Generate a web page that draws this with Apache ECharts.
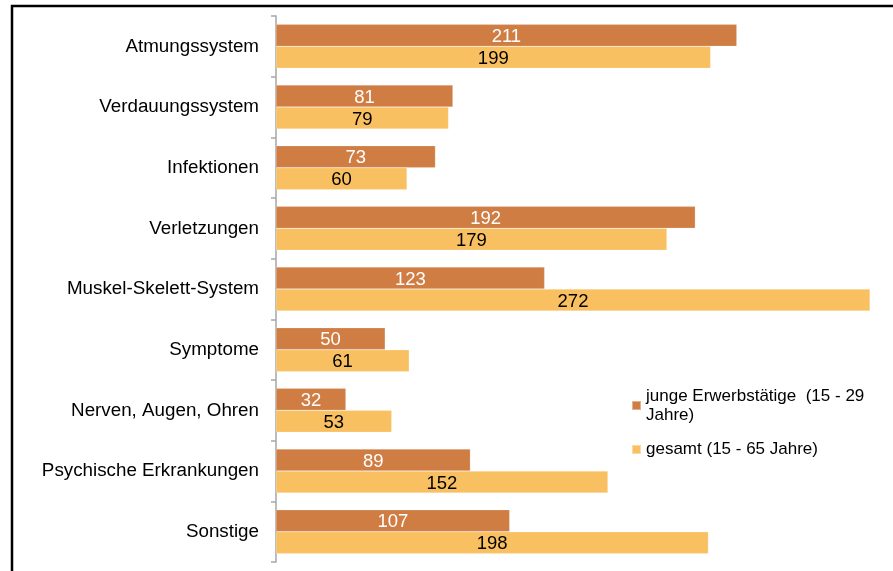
<!DOCTYPE html>
<html>
<head>
<meta charset="utf-8">
<script src="https://cdn.jsdelivr.net/npm/echarts@6/dist/echarts.min.js"></script>
<style>html,body{margin:0;padding:0;background:#fff}#c{width:893px;height:571px}</style>
</head>
<body>
<div id="c"></div>
<script>
const categories = ['Atmungssystem','Verdauungssystem','Infektionen','Verletzungen','Muskel-Skelett-System','Symptome','Nerven, Augen, Ohren','Psychische Erkrankungen','Sonstige'];
const seriesNames = ['junge Erwerbstätige  (15 - 29 Jahre)', 'gesamt (15 - 65 Jahre)'];
const jungeValues = [211, 81, 73, 192, 123, 50, 32, 89, 107];
const gesamtValues = [199, 79, 60, 179, 272, 61, 53, 152, 198];

const chart = echarts.init(document.getElementById('c'));
const font = 'Liberation Sans, Arial, sans-serif';
chart.setOption({
  animation: false,
  textStyle: { fontFamily: font },
  graphic: [{
    type: 'rect', silent: true,
    shape: { x: 12, y: 6, width: 1000, height: 1000 },
    style: { fill: 'none', stroke: '#000', lineWidth: 2.5 }
  }],
  legend: [{
    data: [seriesNames[0]],
    orient: 'vertical', left: 631, top: 377, padding: 0,
    itemWidth: 9, itemHeight: 9, icon: 'rect',
    formatter: () => 'junge Erwerbstätige  (15 - 29\nJahre)',
    textStyle: { fontSize: 17, color: '#000', lineHeight: 19, padding: [19, 0, 0, 0], fontFamily: font }
  }, {
    data: [seriesNames[1]],
    orient: 'vertical', left: 631, top: 440, padding: 0,
    itemWidth: 9, itemHeight: 9, icon: 'rect',
    textStyle: { fontSize: 17, color: '#000', lineHeight: 19, fontFamily: font }
  }],
  grid: { left: 276, top: 16, height: 546, width: 611.5, containLabel: false },
  xAxis: {
    type: 'value', min: 0, max: 280,
    axisLine: { show: false }, axisTick: { show: false },
    axisLabel: { show: false }, splitLine: { show: false }
  },
  yAxis: {
    type: 'category', data: categories, inverse: true,
    axisLine: { show: true, lineStyle: { color: '#a6a6a6', width: 1.5 } },
    axisTick: { show: true, length: 5, lineStyle: { color: '#a6a6a6', width: 1.5 } },
    axisLabel: { fontSize: 18.8, color: '#000', margin: 17, fontFamily: font, padding: [4, 0, 0, 0] }
  },
  series: [{
    name: seriesNames[0], type: 'bar', data: jungeValues,
    barWidth: 22, barGap: '0%',
    itemStyle: { color: '#D07D44', borderColor: 'rgba(255,255,255,0.4)', borderWidth: 0.5 },
    label: { show: true, position: 'inside', offset: [0, 1.5], color: '#fff', fontSize: 18.5, fontFamily: font }
  }, {
    name: seriesNames[1], type: 'bar', data: gesamtValues,
    barWidth: 22, barGap: '0%',
    itemStyle: { color: '#F9C062', borderColor: 'rgba(255,255,255,0.4)', borderWidth: 0.5 },
    label: { show: true, position: 'inside', offset: [0, 1.5], color: '#000', fontSize: 18.5, fontFamily: font }
  }]
});
</script>
</body>
</html>
